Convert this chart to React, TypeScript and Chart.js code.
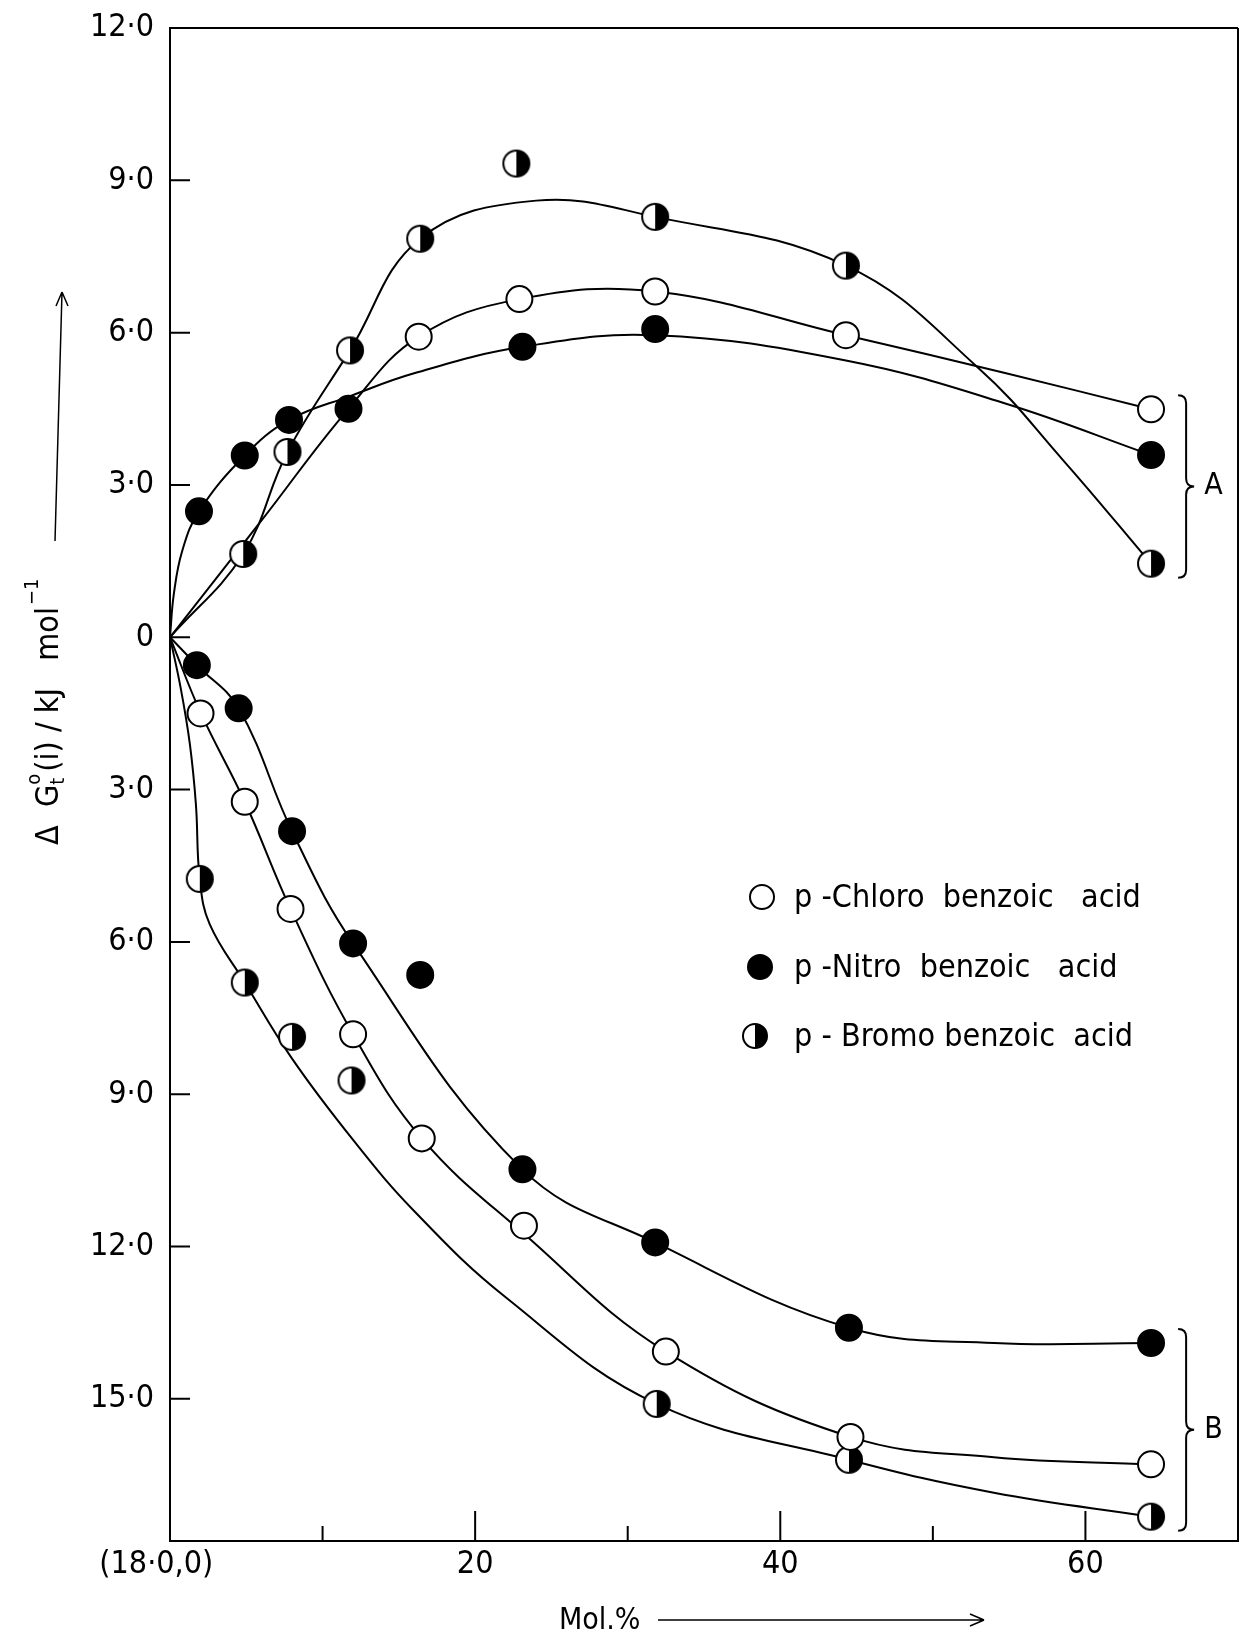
import { useEffect, useRef } from 'react';
import { Chart, registerables } from 'chart.js';

Chart.register(...registerables);

// ---------------- data (Mol.% , ΔG°t(i) / kJ mol^-1) ----------------
// measured points, group A (positive branch)
const chloroAX = [16.3, 22.9, 31.8, 44.3, 64.3];
const chloroAY = [5.92, 6.66, 6.81, 5.95, 4.49];
const nitroAX = [1.9, 4.9, 7.8, 11.7, 23.1, 31.8, 64.3];
const nitroAY = [2.48, 3.58, 4.28, 4.5, 5.72, 6.07, 3.59];
const bromoAX = [4.8, 7.7, 11.8, 16.4, 22.7, 31.8, 44.3, 64.3];
const bromoAY = [1.64, 3.65, 5.65, 7.85, 9.33, 8.28, 7.32, 1.45];

// measured points, group B (negative branch)
const chloroBX = [2.0, 4.9, 7.9, 12.0, 16.5, 23.2, 32.5, 44.6, 64.3];
const chloroBY = [-1.5, -3.24, -5.35, -7.82, -9.87, -11.59, -14.07, -15.75, -16.29];
const nitroBX = [1.76, 4.5, 8.0, 12.0, 16.4, 23.1, 31.8, 44.5, 64.3];
const nitroBY = [-0.55, -1.4, -3.82, -6.03, -6.65, -10.48, -11.92, -13.6, -13.9];
const bromoBX = [1.95, 4.9, 8.0, 11.9, 31.9, 44.5, 64.3];
const bromoBY = [-4.76, -6.8, -7.87, -8.73, -15.1, -16.2, -17.32];

// hand-drawn smooth curves
const chloroCurveAX = [0, 6, 11.7, 16.3, 22.9, 31.8, 44.3, 54.8, 64.3];
const chloroCurveAY = [0, 2.3, 4.5, 5.92, 6.66, 6.81, 5.95, 5.2, 4.49];
const nitroCurveAX = [0, 0.25, 0.8, 1.9, 4.9, 7.8, 11.8, 16, 23.1, 31.8, 44.3, 54.8, 64.3];
const nitroCurveAY = [0, 0.85, 1.7, 2.48, 3.58, 4.28, 4.75, 5.2, 5.72, 5.95, 5.45, 4.6, 3.59];
const bromoCurveAX = [0, 4.8, 7.7, 11.8, 16.4, 24, 31.8, 44.3, 53, 58.5, 64.3];
const bromoCurveAY = [0, 1.64, 3.65, 5.65, 7.85, 8.6, 8.28, 7.32, 5.3, 3.5, 1.45];

const chloroCurveBX = [0, 2.0, 4.9, 7.9, 12.0, 16.5, 23.2, 32.5, 44.6, 54, 64.3];
const chloroCurveBY = [0, -1.48, -3.24, -5.35, -7.82, -9.87, -11.75, -14.07, -15.75, -16.15, -16.29];
const nitroCurveBX = [0, 1.76, 4.5, 8.0, 12.0, 23.1, 31.8, 44.5, 54, 64.3];
const nitroCurveBY = [0, -0.55, -1.4, -3.82, -6.03, -10.48, -11.92, -13.6, -13.9, -13.9];
const bromoCurveBX = [0, 0.7, 1.3, 1.7, 1.95, 2.6, 4.9, 8, 12, 16, 22, 31.9, 44.5, 54, 64.3];
const bromoCurveBY = [0, -1.0, -2.1, -3.3, -4.76, -5.65, -6.8, -8.3, -9.9, -11.3, -13.0, -15.1, -16.2, -16.85, -17.32];

// axes
const xMin = 0;
const xMax = 70;
const yMin = -17.8;
const yMax = 12;
const xTickValues = [0, 20, 40, 60];
const xTickLabels = ['(18·0,0)   ', '20', '40', '60'];
const xMinorTicks = [10, 30, 50];
const yTickValues = [12, 9, 6, 3, 0, -3, -6, -9, -12, -15];
const yTickLabels = ['12·0', '9·0', '6·0', '3·0', '0', '3·0', '6·0', '9·0', '12·0', '15·0'];

const legendLabels = ['p -Chloro  benzoic   acid', 'p -Nitro  benzoic   acid', 'p - Bromo benzoic  acid'];
const groupLabels = ['A', 'B'];
const xTitle = 'Mol.%';

const FONT = '"Liberation Sans Narrow", "DejaVu Sans Condensed", "Liberation Sans", Arial, sans-serif';

// frame geometry (pixels)
const AREA_LEFT = 170;
const AREA_RIGHT = 1238;
const AREA_TOP = 28;
const AREA_BOTTOM = 1541;

const zip = (xs: number[], ys: number[]) => xs.map((x, i) => ({ x, y: ys[i] }));

function makeHalfMarker(r: number, lw: number) {
  const s = Math.ceil(2 * (r + lw)) + 2;
  const c = document.createElement('canvas');
  c.width = s;
  c.height = s;
  const g = c.getContext('2d')!;
  g.translate(s / 2, s / 2);
  g.beginPath();
  g.arc(0, 0, r, 0, Math.PI * 2);
  g.fillStyle = '#fff';
  g.fill();
  g.beginPath();
  g.moveTo(0, -r);
  g.arc(0, 0, r, -Math.PI / 2, Math.PI / 2);
  g.closePath();
  g.fillStyle = '#000';
  g.fill();
  g.beginPath();
  g.arc(0, 0, r, 0, Math.PI * 2);
  g.lineWidth = lw;
  g.strokeStyle = '#000';
  g.stroke();
  return c;
}

function drawBrace(ctx: CanvasRenderingContext2D, x: number, yTop: number, yBot: number, w: number) {
  const yMid = (yTop + yBot) / 2;
  ctx.beginPath();
  ctx.moveTo(x - w, yTop);
  ctx.quadraticCurveTo(x, yTop, x, yTop + w);
  ctx.lineTo(x, yMid - w);
  ctx.quadraticCurveTo(x, yMid, x + w, yMid);
  ctx.quadraticCurveTo(x, yMid, x, yMid + w);
  ctx.lineTo(x, yBot - w);
  ctx.quadraticCurveTo(x, yBot, x - w, yBot);
  ctx.stroke();
}

export default function App() {
  const ref = useRef<HTMLCanvasElement>(null);

  useEffect(() => {
    const canvas = ref.current!;
    const half = makeHalfMarker(13, 2);
    const halfLegend = makeHalfMarker(12, 2);

    const marker = (data: any[], kind: 'open' | 'filled' | 'half') => ({
      type: 'scatter',
      data,
      showLine: false,
      order: 0,
      pointStyle: kind === 'half' ? half : 'circle',
      pointRadius: 13,
      pointHoverRadius: 13,
      pointBorderWidth: 2,
      pointBorderColor: '#000',
      pointBackgroundColor: kind === 'filled' ? '#000' : '#fff',
    });
    const curve = (data: any[]) => ({
      type: 'scatter',
      data,
      showLine: true,
      order: 1,
      borderColor: '#000',
      borderWidth: 2,
      pointRadius: 0,
      pointHoverRadius: 0,
      tension: 0.4,
      fill: false,
    });

    const datasets: any[] = [
      curve(zip(chloroCurveAX, chloroCurveAY)),
      curve(zip(nitroCurveAX, nitroCurveAY)),
      curve(zip(bromoCurveAX, bromoCurveAY)),
      curve(zip(chloroCurveBX, chloroCurveBY)),
      curve(zip(nitroCurveBX, nitroCurveBY)),
      curve(zip(bromoCurveBX, bromoCurveBY)),
      marker(zip(chloroAX, chloroAY), 'open'),
      marker(zip(nitroAX, nitroAY), 'filled'),
      marker(zip(bromoAX, bromoAY), 'half'),
      marker(zip(chloroBX, chloroBY), 'open'),
      marker(zip(nitroBX, nitroBY), 'filled'),
      marker(zip(bromoBX, bromoBY), 'half'),
    ];

    // pin the plot frame to the reference geometry after Chart.js lays out
    const pinPlugin = {
      id: 'pin',
      afterLayout(chart: any) {
        const ca = chart.chartArea;
        ca.left = AREA_LEFT;
        ca.right = AREA_RIGHT;
        ca.top = AREA_TOP;
        ca.bottom = AREA_BOTTOM;
        ca.width = AREA_RIGHT - AREA_LEFT;
        ca.height = AREA_BOTTOM - AREA_TOP;
        const xs = chart.scales.x;
        xs.left = AREA_LEFT;
        xs.right = AREA_RIGHT;
        xs.width = AREA_RIGHT - AREA_LEFT;
        xs.top = AREA_BOTTOM;
        xs.bottom = chart.height;
        xs.height = chart.height - AREA_BOTTOM;
        xs.configure();
        xs._labelItems = null;
        const ys = chart.scales.y;
        ys.left = 0;
        ys.right = AREA_LEFT;
        ys.width = AREA_LEFT;
        ys.top = AREA_TOP;
        ys.bottom = AREA_BOTTOM;
        ys.height = AREA_BOTTOM - AREA_TOP;
        ys.configure();
        ys._labelItems = null;
      },
    };

    const framePlugin = {
      id: 'frame',
      afterDraw(chart: any) {
        const ctx: CanvasRenderingContext2D = chart.ctx;
        const xs = chart.scales.x;
        const ys = chart.scales.y;
        const { left, right, top, bottom } = chart.chartArea;
        ctx.save();
        ctx.strokeStyle = '#000';
        ctx.fillStyle = '#000';
        ctx.lineWidth = 2;
        ctx.lineCap = 'butt';

        // top and right frame
        ctx.beginPath();
        ctx.moveTo(left - 1, top);
        ctx.lineTo(right, top);
        ctx.moveTo(right, top);
        ctx.lineTo(right, bottom);
        ctx.stroke();

        // inner ticks on y axis
        ctx.beginPath();
        yTickValues.forEach((v) => {
          if (v >= yMax) return;
          const y = ys.getPixelForValue(v);
          ctx.moveTo(left, y);
          ctx.lineTo(left + 20, y);
        });
        // inner ticks on x axis
        xTickValues.forEach((v) => {
          if (v <= xMin) return;
          const x = xs.getPixelForValue(v);
          ctx.moveTo(x, bottom);
          ctx.lineTo(x, bottom - 30);
        });
        xMinorTicks.forEach((v) => {
          const x = xs.getPixelForValue(v);
          ctx.moveTo(x, bottom);
          ctx.lineTo(x, bottom - 15);
        });
        ctx.stroke();

        // braces A and B
        const endX = Math.max(...chloroAX);
        const braceX = xs.getPixelForValue(endX + 2.3);
        const groups = [
          [chloroAY, nitroAY, bromoAY],
          [chloroBY, nitroBY, bromoBY],
        ];
        groups.forEach((g, i) => {
          const ends = g.map((arr) => arr[arr.length - 1]);
          const yT = ys.getPixelForValue(Math.max(...ends)) - 14;
          const yB = ys.getPixelForValue(Math.min(...ends)) + 14;
          ctx.lineWidth = 2;
          drawBrace(ctx, braceX, yT, yB, 8);
          ctx.font = `30px ${FONT}`;
          ctx.textAlign = 'left';
          ctx.textBaseline = 'middle';
          ctx.fillText(groupLabels[i], braceX + 18, (yT + yB) / 2);
        });

        // legend
        const legendY = [897, 967, 1036];
        const legendX = [762, 760, 755];
        const kinds = ['open', 'filled', 'half'];
        legendLabels.forEach((lab, i) => {
          const mx = legendX[i];
          const my = legendY[i];
          if (kinds[i] === 'half') {
            ctx.drawImage(halfLegend, mx - halfLegend.width / 2, my - halfLegend.height / 2);
          } else {
            ctx.beginPath();
            ctx.arc(mx, my, 12, 0, Math.PI * 2);
            ctx.fillStyle = kinds[i] === 'filled' ? '#000' : '#fff';
            ctx.fill();
            ctx.lineWidth = 2;
            ctx.stroke();
            ctx.fillStyle = '#000';
          }
          ctx.font = `32px ${FONT}`;
          ctx.textAlign = 'left';
          ctx.textBaseline = 'middle';
          ctx.fillText(lab, 794, my + 2);
        });

        // x axis title with arrow
        ctx.font = `30px ${FONT}`;
        ctx.textAlign = 'left';
        ctx.textBaseline = 'middle';
        ctx.fillText(xTitle, 559, 1621);
        ctx.lineWidth = 1.5;
        ctx.beginPath();
        ctx.moveTo(658, 1620);
        ctx.lineTo(984, 1620);
        ctx.moveTo(984, 1620);
        ctx.lineTo(970, 1614);
        ctx.moveTo(984, 1620);
        ctx.lineTo(970, 1626);
        ctx.stroke();

        // y axis title (rotated) with arrow
        ctx.save();
        ctx.translate(46, 845);
        ctx.rotate(-Math.PI / 2);
        ctx.textAlign = 'left';
        ctx.textBaseline = 'alphabetic';
        let cx = 0;
        const big = `32px ${FONT}`;
        const small = `20px ${FONT}`;
        const put = (t: string, font: string, dy: number) => {
          ctx.font = font;
          ctx.fillText(t, cx, dy);
          return ctx.measureText(t).width;
        };
        cx += put('Δ  G', big, 12);
        const w1 = put('o', small, -6);
        put('t', small, 18);
        cx += w1 + 2;
        cx += put('(i) / kJ   mol', big, 12);
        cx += 2;
        put('−1', small, -8);
        ctx.restore();

        ctx.lineWidth = 1.5;
        ctx.beginPath();
        ctx.moveTo(55, 541);
        ctx.lineTo(62, 292);
        ctx.moveTo(62, 292);
        ctx.lineTo(56, 306);
        ctx.moveTo(62, 292);
        ctx.lineTo(68, 306);
        ctx.stroke();

        ctx.restore();
      },
    };

    const chart = new Chart(canvas, {
      type: 'scatter',
      data: { datasets },
      plugins: [pinPlugin, framePlugin],
      options: {
        responsive: false,
        animation: false,
        devicePixelRatio: 1,
        layout: { padding: { top: 28, right: 2, left: 0, bottom: 0 } },
        plugins: { legend: { display: false }, tooltip: { enabled: false } },
        scales: {
          x: {
            type: 'linear',
            min: xMin,
            max: xMax,
            afterBuildTicks: (axis: any) => {
              axis.ticks = xTickValues.map((v) => ({ value: v }));
            },
            afterFit: (scale: any) => {
              scale.height = 92;
              scale.paddingLeft = 0;
              scale.paddingRight = 0;
            },
            grid: { display: false, drawTicks: false },
            border: { display: true, color: '#000', width: 2 },
            ticks: {
              autoSkip: false,
              maxRotation: 0,
              minRotation: 0,
              padding: 4,
              color: '#000',
              font: { family: FONT, size: 32 },
              callback: (v: any) => {
                const i = xTickValues.indexOf(Number(v));
                return i >= 0 ? xTickLabels[i] : '';
              },
            },
          },
          y: {
            type: 'linear',
            min: yMin,
            max: yMax,
            afterBuildTicks: (axis: any) => {
              axis.ticks = yTickValues.map((v) => ({ value: v }));
            },
            afterFit: (scale: any) => {
              scale.width = 170;
              scale.paddingTop = 0;
              scale.paddingBottom = 0;
            },
            grid: { display: false, drawTicks: false },
            border: { display: true, color: '#000', width: 2 },
            ticks: {
              autoSkip: false,
              padding: 16,
              color: '#000',
              font: { family: FONT, size: 32 },
              callback: (v: any) => {
                const i = yTickValues.indexOf(Number(v));
                return i >= 0 ? yTickLabels[i] : '';
              },
            },
          },
        },
      } as any,
    } as any);

    return () => chart.destroy();
  }, []);

  return (
    <div style={{ position: 'absolute', left: 0, top: 0, width: 1240, height: 1633, background: '#fff' }}>
      <canvas ref={ref} width={1240} height={1633} style={{ display: 'block' }} />
    </div>
  );
}
